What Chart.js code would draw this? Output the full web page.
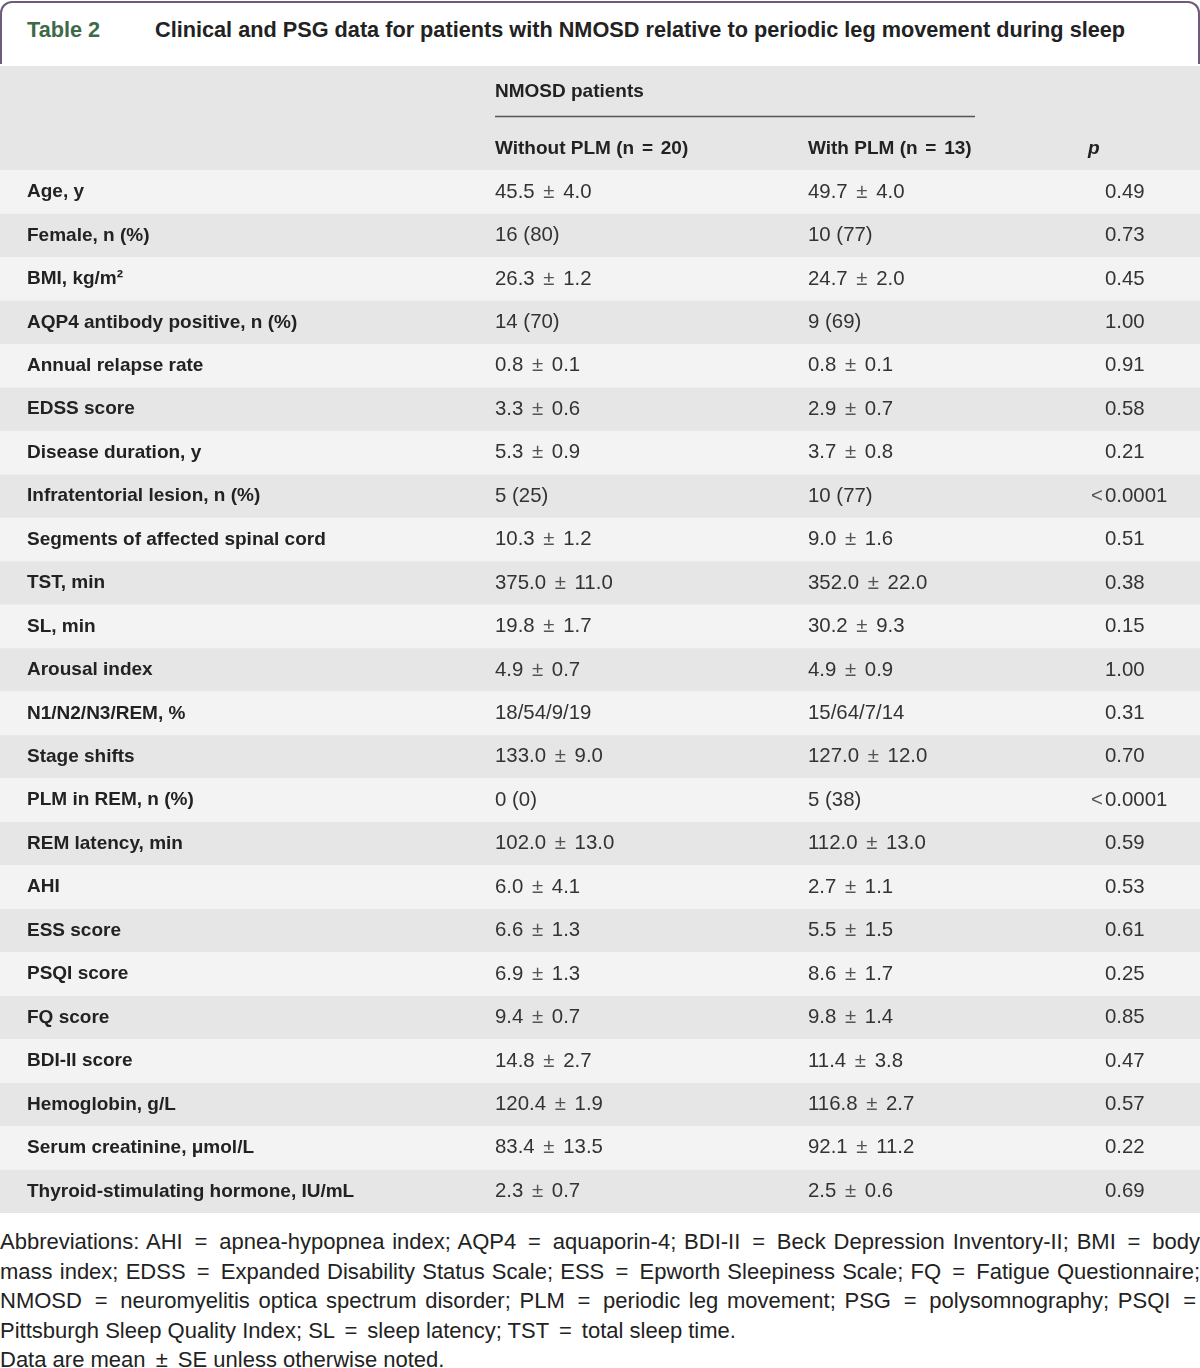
<!DOCTYPE html>
<html><head><meta charset="utf-8">
<script src="https://cdn.jsdelivr.net/npm/chart.js@4.4.1/dist/chart.umd.min.js"></script>
<style>
html,body{margin:0;padding:0;background:#fff;}
body{width:1200px;height:1368px;position:relative;overflow:hidden;font-family:"Liberation Sans",Arial,sans-serif;color:#222;}
#titlebox{position:absolute;left:0;top:1px;width:1196px;height:61px;border:2px solid #6e5b7a;border-bottom:none;border-radius:12px 12px 0 0;}
#tnum{position:absolute;left:27px;top:15px;font-size:21.7px;font-weight:bold;line-height:30px;color:#3d6a4a;white-space:nowrap;}
#ttext{position:absolute;left:155px;top:15px;font-size:21.7px;font-weight:bold;line-height:30px;color:#222;white-space:nowrap;}
#wrap{position:absolute;left:0;top:66px;width:1200px;height:1147px;}
#foot{position:absolute;left:0;top:1227px;width:1200px;font-size:22px;line-height:29.5px;color:#222;}
#foot div{white-space:nowrap;}
#foot .j span.t{display:inline-block;white-space:nowrap;}
#foot .s{margin:0 4px;}
</style></head>
<body>
<div id="titlebox"></div>
<div id="tnum">Table 2</div>
<div id="ttext">Clinical and PSG data for patients with NMOSD relative to periodic leg movement during sleep</div>
<div id="wrap"><canvas id="c" width="1200" height="1147"></canvas></div>
<div id="foot">
<div class="j"><span class="t">Abbreviations: AHI <span class="s">=</span> apnea-hypopnea index; AQP4 <span class="s">=</span> aquaporin-4; BDI-II <span class="s">=</span> Beck Depression Inventory-II; BMI <span class="s">=</span> body</span></div>
<div class="j"><span class="t">mass index; EDSS <span class="s">=</span> Expanded Disability Status Scale; ESS <span class="s">=</span> Epworth Sleepiness Scale; FQ <span class="s">=</span> Fatigue Questionnaire;</span></div>
<div class="j"><span class="t">NMOSD <span class="s">=</span> neuromyelitis optica spectrum disorder; PLM <span class="s">=</span> periodic leg movement; PSG <span class="s">=</span> polysomnography; PSQI <span class="s">=</span></span></div>
<div>Pittsburgh Sleep Quality Index; SL <span class="s">=</span> sleep latency; TST <span class="s">=</span> total sleep time.</div>
<div>Data are mean <span class="s">±</span> SE unless otherwise noted.</div>
</div>
<script>
const groupHeader = 'NMOSD patients';
const colHeaders = ['Without PLM (n = 20)', 'With PLM (n = 13)', 'p'];
const rowLabels = [
  'Age, y', 'Female, n (%)', 'BMI, kg/m²', 'AQP4 antibody positive, n (%)', 'Annual relapse rate',
  'EDSS score', 'Disease duration, y', 'Infratentorial lesion, n (%)', 'Segments of affected spinal cord',
  'TST, min', 'SL, min', 'Arousal index', 'N1/N2/N3/REM, %', 'Stage shifts', 'PLM in REM, n (%)',
  'REM latency, min', 'AHI', 'ESS score', 'PSQI score', 'FQ score', 'BDI-II score', 'Hemoglobin, g/L',
  'Serum creatinine, μmol/L', 'Thyroid-stimulating hormone, IU/mL'
];
const withoutPLM = [
  '45.5 ± 4.0', '16 (80)', '26.3 ± 1.2', '14 (70)', '0.8 ± 0.1', '3.3 ± 0.6', '5.3 ± 0.9', '5 (25)',
  '10.3 ± 1.2', '375.0 ± 11.0', '19.8 ± 1.7', '4.9 ± 0.7', '18/54/9/19', '133.0 ± 9.0', '0 (0)',
  '102.0 ± 13.0', '6.0 ± 4.1', '6.6 ± 1.3', '6.9 ± 1.3', '9.4 ± 0.7', '14.8 ± 2.7', '120.4 ± 1.9',
  '83.4 ± 13.5', '2.3 ± 0.7'
];
const withPLM = [
  '49.7 ± 4.0', '10 (77)', '24.7 ± 2.0', '9 (69)', '0.8 ± 0.1', '2.9 ± 0.7', '3.7 ± 0.8', '10 (77)',
  '9.0 ± 1.6', '352.0 ± 22.0', '30.2 ± 9.3', '4.9 ± 0.9', '15/64/7/14', '127.0 ± 12.0', '5 (38)',
  '112.0 ± 13.0', '2.7 ± 1.1', '5.5 ± 1.5', '8.6 ± 1.7', '9.8 ± 1.4', '11.4 ± 3.8', '116.8 ± 2.7',
  '92.1 ± 11.2', '2.5 ± 0.6'
];
const pValues = [
  '0.49', '0.73', '0.45', '1.00', '0.91', '0.58', '0.21', '<0.0001', '0.51', '0.38', '0.15', '1.00',
  '0.31', '0.70', '<0.0001', '0.59', '0.53', '0.61', '0.25', '0.85', '0.47', '0.57', '0.22', '0.69'
];

const FONT = '"Liberation Sans", Arial, sans-serif';
const COL_X = [27, 495, 808, 1105];
const HEADER_TOP = -2.4;

// justify footnote lines to full width via word-spacing (no wrapping)
document.querySelectorAll('#foot .j').forEach(div => {
  const t = div.querySelector('span.t');
  const natural = t.getBoundingClientRect().width;
  const spaces = (t.textContent.match(/ /g) || []).length;
  if (spaces > 0) t.style.wordSpacing = ((1200 - natural) / spaces) + 'px';
});

// draw text with wider spacing around " ± " and " = "
function drawSpaced(ctx, text, x, y, extra, symColor) {
  const parts = text.split(/ ([±=]) /);
  let cx = x;
  ctx.textAlign = 'left';
  const baseColor = ctx.fillStyle;
  parts.forEach((p, k) => {
    if (k % 2 === 1) {
      const slot = ctx.measureText(' ' + p + ' ').width + extra;
      const w = ctx.measureText(p).width;
      if (symColor) ctx.fillStyle = symColor;
      ctx.fillText(p, cx + (slot - w) / 2, y);
      ctx.fillStyle = baseColor;
      cx += slot;
    } else {
      ctx.fillText(p, cx, y);
      cx += ctx.measureText(p).width;
    }
  });
}

const tablePlugin = {
  id: 'tableCells',
  beforeDatasetsDraw(chart) {
    const {ctx, scales: {x, y}} = chart;
    const x0 = x.getPixelForValue(0), x1 = x.getPixelForValue(1200);
    const band = (a, b, col) => {
      const ya = y.getPixelForValue(a), yb = y.getPixelForValue(b);
      ctx.fillStyle = col;
      ctx.fillRect(x0, ya, x1 - x0, yb - ya);
    };
    ctx.save();
    band(HEADER_TOP, 0, '#e6e6e6');
    rowLabels.forEach((_, i) => band(i, i + 1, i % 2 ? '#e6e6e6' : '#f3f3f3'));
    ctx.restore();
  },
  afterDatasetsDraw(chart) {
    const {ctx, scales: {x, y}} = chart;
    ctx.save();
    ctx.textBaseline = 'middle';
    ctx.fillStyle = '#222';
    ctx.font = 'bold 19px ' + FONT;
    ctx.textAlign = 'left';
    ctx.fillText(groupHeader, x.getPixelForValue(COL_X[1]), y.getPixelForValue(-1.8));
    ctx.strokeStyle = '#555';
    ctx.lineWidth = 1.5;
    ctx.beginPath();
    const ly = Math.round(y.getPixelForValue(-1.25)) + 0.5;
    ctx.moveTo(x.getPixelForValue(COL_X[1]), ly);
    ctx.lineTo(x.getPixelForValue(975), ly);
    ctx.stroke();
    const hy = y.getPixelForValue(-0.5);
    drawSpaced(ctx, colHeaders[0], x.getPixelForValue(COL_X[1]), hy, 5);
    drawSpaced(ctx, colHeaders[1], x.getPixelForValue(COL_X[2]), hy, 5);
    ctx.font = 'italic bold 19px ' + FONT;
    ctx.fillText(colHeaders[2], x.getPixelForValue(1088), hy);
    rowLabels.forEach((lab, i) => {
      const cy = y.getPixelForValue(i + 0.5);
      ctx.textAlign = 'left';
      ctx.font = 'bold 19px ' + FONT;
      ctx.fillStyle = '#222';
      ctx.fillText(lab, x.getPixelForValue(COL_X[0]), cy);
      ctx.font = '20.4px ' + FONT;
      ctx.fillStyle = '#333';
      drawSpaced(ctx, withoutPLM[i], x.getPixelForValue(COL_X[1]), cy, 6, '#555');
      drawSpaced(ctx, withPLM[i], x.getPixelForValue(COL_X[2]), cy, 6, '#555');
      let p = pValues[i];
      const px = x.getPixelForValue(COL_X[3]);
      if (p.startsWith('<')) {
        ctx.textAlign = 'right';
        ctx.fillStyle = '#555';
        ctx.fillText('<', px - 2, cy);
        ctx.fillStyle = '#333';
        p = p.slice(1);
        ctx.textAlign = 'left';
      }
      ctx.fillText(p, px, cy);
    });
    ctx.restore();
  }
};

new Chart(document.getElementById('c'), {
  type: 'scatter',
  data: {datasets: []},
  options: {
    responsive: false,
    devicePixelRatio: 1,
    animation: false,
    layout: {padding: 0},
    plugins: {legend: {display: false}, tooltip: {enabled: false}, title: {display: false}},
    scales: {
      x: {type: 'linear', min: 0, max: 1200, display: false},
      y: {type: 'linear', min: HEADER_TOP, max: 24, reverse: true, display: false}
    }
  },
  plugins: [tablePlugin]
});
</script>
</body></html>
